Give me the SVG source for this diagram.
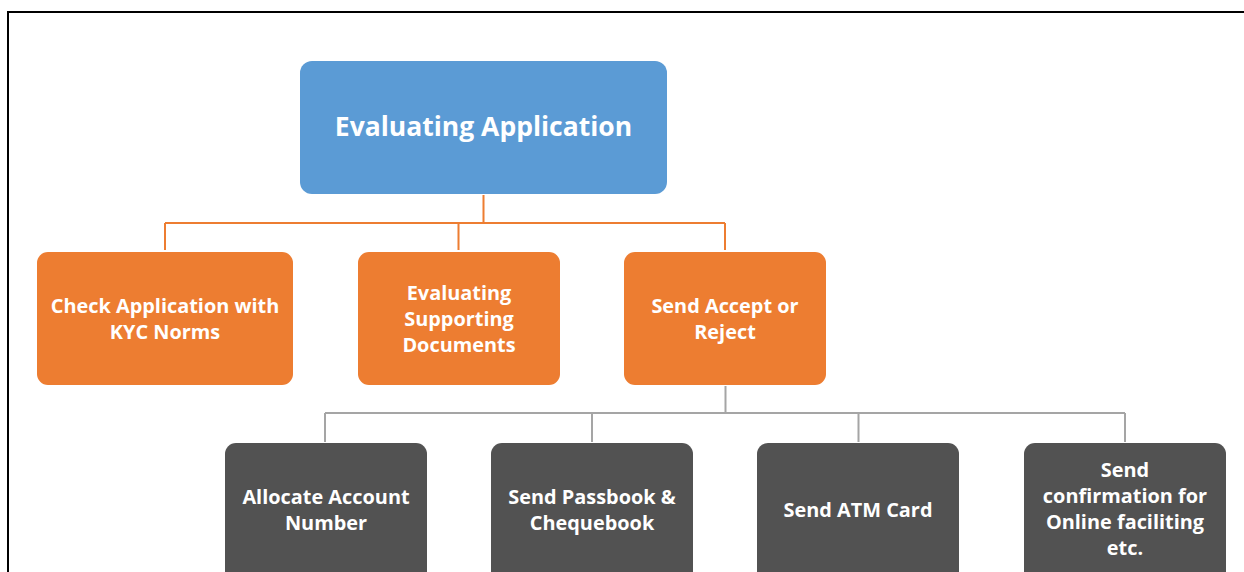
<svg xmlns="http://www.w3.org/2000/svg" width="1244" height="572" viewBox="0 0 1244 572">
  <style>
    .frame { fill: none; stroke: #000; stroke-width: 2; }
    .top { fill: #5B9BD5; }
    .mid { fill: #ED7D31; }
    .low { fill: #525252; }
    .lbl { font-family: "Open Sans", "Liberation Sans", sans-serif; font-weight: bold; fill: #fff; text-anchor: middle; dominant-baseline: central; }
    .t1 { font-size: 26.5px; }
    .t2 { font-size: 19.9px; }
    .c-orange { fill: none; stroke: #ED7D31; stroke-width: 2; }
    .c-gray { fill: none; stroke: #A5A5A5; stroke-width: 2; }
  </style>

  <!-- outer frame; right and bottom edges run past the canvas -->
  <rect x="8" y="12" width="1260" height="600" class="frame"/>

  <g id="connectors">
    <path class="c-orange" d="M483.5 195 V223 M165 223 H725 M165 223 V250 M458.5 223 V250 M725 223 V250"/>
    <path class="c-gray" d="M725.5 386 V413 M325 413 H1125 M325 413 V442 M592 413 V442 M858.5 413 V442 M1125 413 V442"/>
  </g>

  <g id="evaluating-application">
    <rect x="300" y="61" width="367" height="133" rx="12" class="top"/>
    <text x="483.5" y="126" class="lbl t1">Evaluating Application</text>
  </g>

  <g id="check-kyc">
    <rect x="37" y="252" width="256" height="133" rx="11" class="mid"/>
    <text x="165" y="305" class="lbl t2">Check Application with</text>
    <text x="165" y="331" class="lbl t2">KYC Norms</text>
  </g>

  <g id="evaluating-documents">
    <rect x="358" y="252" width="202" height="133" rx="11" class="mid"/>
    <text x="459" y="292" class="lbl t2">Evaluating</text>
    <text x="459" y="318" class="lbl t2">Supporting</text>
    <text x="459" y="344" class="lbl t2">Documents</text>
  </g>

  <g id="accept-reject">
    <rect x="624" y="252" width="202" height="133" rx="11" class="mid"/>
    <text x="725" y="305" class="lbl t2">Send Accept or</text>
    <text x="725" y="331" class="lbl t2">Reject</text>
  </g>

  <g id="allocate-account">
    <rect x="225" y="443" width="202" height="150" rx="11" class="low"/>
    <text x="326" y="496" class="lbl t2">Allocate Account</text>
    <text x="326" y="522" class="lbl t2">Number</text>
  </g>

  <g id="passbook">
    <rect x="491" y="443" width="202" height="150" rx="11" class="low"/>
    <text x="592" y="496" class="lbl t2">Send Passbook &amp;</text>
    <text x="592" y="522" class="lbl t2">Chequebook</text>
  </g>

  <g id="atm-card">
    <rect x="757" y="443" width="202" height="150" rx="11" class="low"/>
    <text x="858" y="509" class="lbl t2">Send ATM Card</text>
  </g>

  <g id="online-facility">
    <rect x="1024" y="443" width="202" height="150" rx="11" class="low"/>
    <text x="1125" y="469" class="lbl t2">Send</text>
    <text x="1125" y="495" class="lbl t2">confirmation for</text>
    <text x="1125" y="521" class="lbl t2">Online faciliting</text>
    <text x="1125" y="547" class="lbl t2">etc.</text>
  </g>
</svg>
